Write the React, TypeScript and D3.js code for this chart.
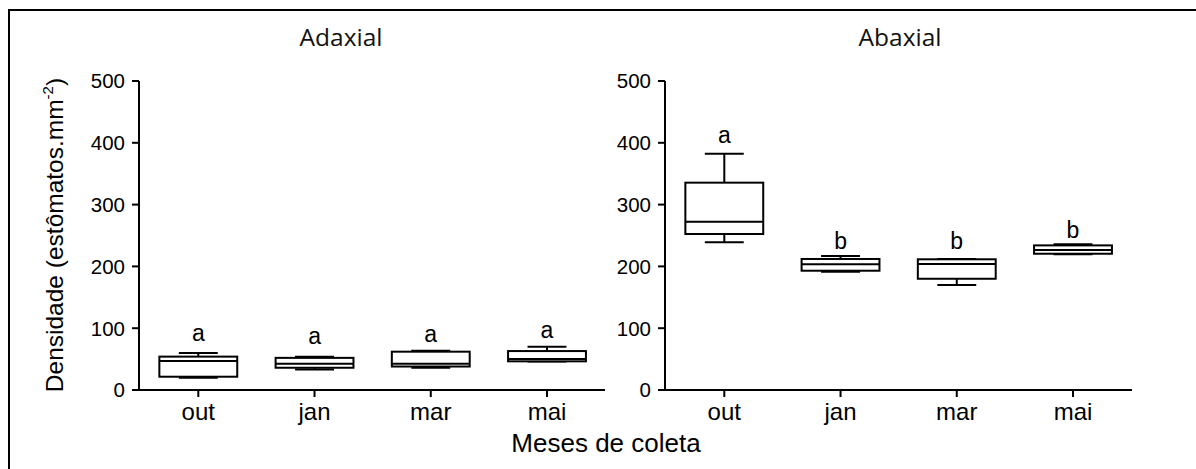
import React from "react";
import * as d3 from "d3";

const months = ["out", "jan", "mar", "mai"];
const yTicks = [0, 100, 200, 300, 400, 500];

// Adaxial
const adMin = [20, 33, 36, 46];
const adQ1 = [21.5, 36, 38, 46.4];
const adMed = [47, 42.5, 42.5, 50];
const adQ3 = [54, 52, 62, 63];
const adMax = [60, 54, 63.6, 70];
const adLetters = ["a", "a", "a", "a"];
const adLetterY = [80, 74.5, 78, 84];

// Abaxial
const abMin = [239, 191.5, 170, 219.5];
const abQ1 = [252.4, 193, 180, 220.5];
const abMed = [272.4, 203.4, 204, 226.5];
const abQ3 = [335.5, 212, 211.5, 234];
const abMax = [382.4, 216.8, 212, 236];
const abLetters = ["a", "b", "b", "b"];
const abLetterY = [400, 228, 228, 246];

const y = d3.scaleLinear().domain([0, 500]).range([390, 81]);
const ARIAL = "'Liberation Sans', Arial, sans-serif";

type PanelProps = {
  title: string;
  titleX: number;
  axisX: number;
  axisEnd: number;
  xRange: [number, number];
  mins: number[];
  q1: number[];
  med: number[];
  q3: number[];
  maxs: number[];
  letters: string[];
  letterY: number[];
};

function Panel(p: PanelProps) {
  const x = d3.scalePoint<string>().domain(months).range(p.xRange);
  const step = x.step();
  const bw = step * 0.67;
  const cap = bw / 2;
  return (
    <g>
      <text
        x={p.titleX}
        y={46}
        textAnchor="middle"
        fontFamily="'Open Sans', sans-serif"
        fontSize={24.5}
        fill="#111"
      >
        {p.title}
      </text>
      <line x1={p.axisX} x2={p.axisX} y1={y(500)} y2={y(0)} stroke="#000" strokeWidth={2} />
      {yTicks.map((t) => (
        <g key={t}>
          <line x1={p.axisX - 7} x2={p.axisX} y1={y(t)} y2={y(t)} stroke="#000" strokeWidth={2} />
          <text
            x={p.axisX - 14}
            y={y(t)}
            dy="0.36em"
            textAnchor="end"
            fontFamily={ARIAL}
            fontSize={20.5}
            fill="#000"
          >
            {t}
          </text>
        </g>
      ))}
      <line x1={p.axisX - 1} x2={p.axisEnd} y1={y(0)} y2={y(0)} stroke="#000" strokeWidth={2} />
      {months.map((m) => (
        <g key={m}>
          <line x1={x(m)} x2={x(m)} y1={y(0)} y2={y(0) + 7} stroke="#000" strokeWidth={2} />
          <text x={x(m)} y={420} textAnchor="middle" fontFamily={ARIAL} fontSize={24} fill="#000">
            {m}
          </text>
        </g>
      ))}
      {months.map((m, i) => {
        const cx = x(m) as number;
        return (
          <g key={"b" + m} stroke="#000" strokeWidth={2} fill="none">
            <line x1={cx} x2={cx} y1={y(p.maxs[i])} y2={y(p.q3[i])} />
            <line x1={cx} x2={cx} y1={y(p.q1[i])} y2={y(p.mins[i])} />
            <line x1={cx - cap / 2} x2={cx + cap / 2} y1={y(p.maxs[i])} y2={y(p.maxs[i])} />
            <line x1={cx - cap / 2} x2={cx + cap / 2} y1={y(p.mins[i])} y2={y(p.mins[i])} />
            <rect
              x={cx - bw / 2}
              y={y(p.q3[i])}
              width={bw}
              height={y(p.q1[i]) - y(p.q3[i])}
              fill="#fff"
            />
            <line x1={cx - bw / 2} x2={cx + bw / 2} y1={y(p.med[i])} y2={y(p.med[i])} />
          </g>
        );
      })}
      {months.map((m, i) => (
        <text
          key={"l" + m}
          x={x(m)}
          y={y(p.letterY[i])}
          textAnchor="middle"
          fontFamily={ARIAL}
          fontSize={23}
          fill="#000"
        >
          {p.letters[i]}
        </text>
      ))}
    </g>
  );
}

export default function App() {
  return (
    <svg
      width={1196}
      height={469}
      style={{ position: "absolute", left: 0, top: 0, background: "#fff" }}
    >
      <rect x={0} y={0} width={1196} height={469} fill="#fff" />
      <rect x={9} y={10} width={1300} height={600} fill="none" stroke="#000" strokeWidth={2} />
      <Panel
        title="Adaxial"
        titleX={341}
        axisX={139}
        axisEnd={605}
        xRange={[198.3, 547]}
        mins={adMin}
        q1={adQ1}
        med={adMed}
        q3={adQ3}
        maxs={adMax}
        letters={adLetters}
        letterY={adLetterY}
      />
      <Panel
        title="Abaxial"
        titleX={900}
        axisX={665}
        axisEnd={1132}
        xRange={[724.3, 1073]}
        mins={abMin}
        q1={abQ1}
        med={abMed}
        q3={abQ3}
        maxs={abMax}
        letters={abLetters}
        letterY={abLetterY}
      />
      <text
        transform="translate(63,235) rotate(-90)"
        textAnchor="middle"
        fontFamily={ARIAL}
        fontSize={24.5}
        fill="#000"
      >
        Densidade (estômatos.mm
        <tspan fontSize={15} dy={-10}>-2</tspan>
        <tspan dy={10}>)</tspan>
      </text>
      <text x={606} y={452} textAnchor="middle" fontFamily={ARIAL} fontSize={26} fill="#000">
        Meses de coleta
      </text>
    </svg>
  );
}
